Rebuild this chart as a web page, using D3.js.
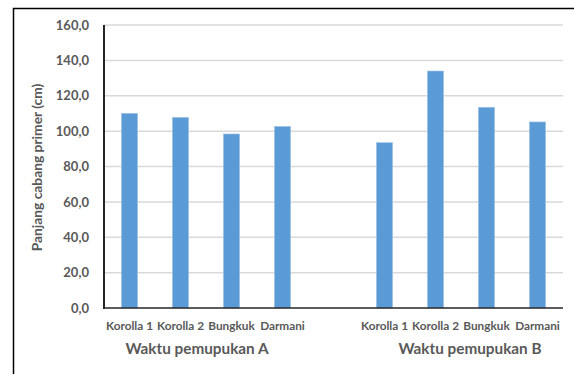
<!DOCTYPE html>
<html>
<head>
<meta charset="utf-8">
<script src="https://cdn.jsdelivr.net/npm/d3@7"></script>
<style>
  html, body { margin: 0; padding: 0; background: #fff; }
  svg { display: block; }
  text { font-family: Lato, "Open Sans", sans-serif; font-weight: bold; fill: #595959; }
</style>
</head>
<body>
<svg id="chart" width="574" height="374"></svg>
<script>
// Primary branch length per variety, for two fertilising times
const varieties = ["Korolla 1", "Korolla 2", "Bungkuk", "Darmani"];
const groups = ["Waktu pemupukan A", "Waktu pemupukan B"];
const valuesA = [110.1, 107.8, 98.4, 102.7];
const valuesB = [93.5, 134.0, 113.5, 105.2];
const yTicks = [0, 20, 40, 60, 80, 100, 120, 140, 160];
const yTitle = "Panjang cabang primer (cm)";

// One slot per bar, with an empty slot separating the two groups
const rows = [];
varieties.forEach((v, i) => rows.push({ key: "A" + i, label: v, value: valuesA[i], group: 0 }));
rows.push({ key: "gap", label: "", value: null, group: -1 });
varieties.forEach((v, i) => rows.push({ key: "B" + i, label: v, value: valuesB[i], group: 1 }));

const svg = d3.select("#chart");
const m = { left: 104, right: 563, top: 25, bottom: 308 };

const x = d3.scaleBand()
  .domain(rows.map(d => d.key))
  .range([m.left, m.right])
  .paddingInner(0.68)
  .paddingOuter(0.34);

const y = d3.scaleLinear().domain([0, 160]).range([m.bottom, m.top]);

// Outer frame
svg.append("path")
  .attr("d", "M13.5,380 L13.5,8.5 L580,8.5")
  .attr("fill", "none")
  .attr("stroke", "#000")
  .attr("stroke-width", 1.5);

// Gridlines
svg.append("g")
  .selectAll("line")
  .data(yTicks.filter(t => t > 0))
  .join("line")
  .attr("x1", m.left).attr("x2", m.right)
  .attr("y1", d => y(d)).attr("y2", d => y(d))
  .attr("stroke", "#d9d9d9")
  .attr("stroke-width", 1.5);

// Y axis labels
const yAxis = d3.axisLeft(y)
  .tickValues(yTicks)
  .tickSize(0)
  .tickPadding(15)
  .tickFormat(d => d3.format(".1f")(d).replace(".", ","));
const yg = svg.append("g").attr("transform", `translate(${m.left},0)`).call(yAxis);
yg.select(".domain").remove();
yg.selectAll("text")
  .attr("font-size", 13)
  .attr("font-family", null)
  .style("fill", "#595959");

// Bars
svg.append("g")
  .selectAll("rect")
  .data(rows.filter(d => d.value !== null))
  .join("rect")
  .attr("x", d => x(d.key))
  .attr("width", x.bandwidth())
  .attr("y", d => y(d.value))
  .attr("height", d => y(0) - y(d.value))
  .attr("fill", "#5b9bd5")
  .attr("stroke", "#a9c8ea")
  .attr("stroke-width", 0.6);

// Axis lines
svg.append("line")
  .attr("x1", m.left).attr("x2", m.left)
  .attr("y1", y(160)).attr("y2", y(0) + 1)
  .attr("stroke", "#262626").attr("stroke-width", 2);
svg.append("line")
  .attr("x1", m.left).attr("x2", m.right)
  .attr("y1", y(0)).attr("y2", y(0))
  .attr("stroke", "#262626").attr("stroke-width", 1.5);

// Category labels
svg.append("g")
  .selectAll("text")
  .data(rows.filter(d => d.label))
  .join("text")
  .attr("x", d => x(d.key) + x.bandwidth() / 2)
  .attr("y", 330)
  .attr("text-anchor", "middle")
  .attr("font-size", 11.8)
  .text(d => d.label);

// Group labels
const groupCenter = g => {
  const keys = rows.filter(d => d.group === g).map(d => x(d.key) + x.bandwidth() / 2);
  return (d3.min(keys) + d3.max(keys)) / 2;
};
svg.append("g")
  .selectAll("text")
  .data(groups)
  .join("text")
  .attr("x", (d, i) => groupCenter(i) + (i === 0 ? -9 : 9))
  .attr("y", 354)
  .attr("text-anchor", "middle")
  .attr("font-size", 15.3)
  .text(d => d);

// Y axis title
svg.append("text")
  .attr("transform", `translate(42,${(m.top + m.bottom) / 2 + 1}) rotate(-90)`)
  .attr("text-anchor", "middle")
  .attr("font-size", 13.8)
  .text(yTitle);
</script>
</body>
</html>
